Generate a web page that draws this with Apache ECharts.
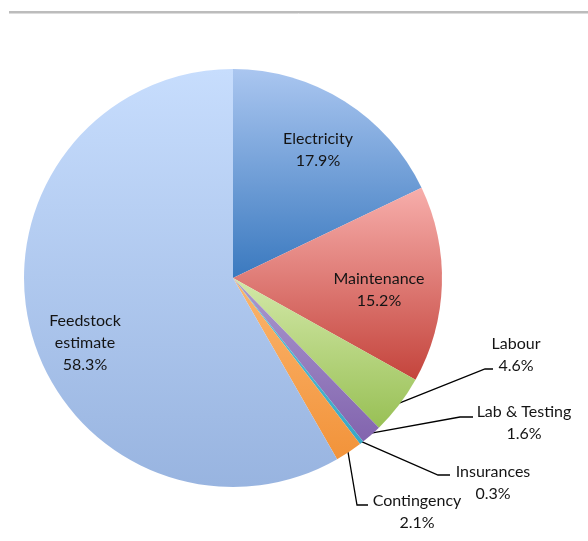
<!DOCTYPE html>
<html>
<head>
<meta charset="utf-8">
<script src="https://cdn.jsdelivr.net/npm/echarts@6/dist/echarts.min.js"></script>
<style>
html,body{margin:0;padding:0;background:#fff;}
#chart{width:588px;height:541px;}
</style>
</head>
<body>
<div id="chart"></div>
<script>
// ---- data ----
const categories = ['Electricity', 'Maintenance', 'Labour', 'Lab & Testing', 'Insurances', 'Contingency', 'Feedstock estimate'];
const shares = [17.9, 15.2, 4.6, 1.6, 0.3, 2.1, 58.3];
const labelTexts = ['Electricity', 'Maintenance', 'Labour', 'Lab & Testing', 'Insurances', 'Contingency', 'Feedstock\nestimate'];

// ---- styling / layout (not data) ----
const gradients = [
  ['#aac6f0', '#3a79bf'],
  ['#f7aeab', '#c4443c'],
  ['#d3e8a8', '#98c055'],
  ['#ab99cf', '#8264ae'],
  ['#5cc2d8', '#38a8c6'],
  ['#fbb56e', '#f2933a'],
  ['#c7ddfd', '#98b4e0']
];
const CX = 233, CY = 278, R = 209;
const labelPos = [[318, 150], [379, 290], [516, 355], [524, 423], [493, 483], [417, 512], [85, 343]];
const lineTail = [null, null,
  [[485, 369], [493, 369]],
  [[460, 417], [473, 417]],
  [[438, 475], [450, 475]],
  [[357, 505], [368, 505]],
  null];

const total = shares.reduce((a, b) => a + b, 0);
function edgePoint(i) {
  let before = 0;
  for (let k = 0; k < i; k++) before += shares[k];
  const mid = (before + shares[i] / 2) / total * 2 * Math.PI;
  const r = R - 2;
  return [CX + r * Math.sin(mid), CY - r * Math.cos(mid)];
}

const data = categories.map((name, i) => ({
  name: name,
  value: shares[i],
  itemStyle: {
    color: {
      type: 'linear', x: 0, y: 0, x2: 0, y2: 1,
      colorStops: [{offset: 0, color: gradients[i][0]}, {offset: 1, color: gradients[i][1]}]
    }
  },
  labelLine: {show: !!lineTail[i]}
}));

const chart = echarts.init(document.getElementById('chart'), null, {renderer: 'canvas'});
chart.setOption({
  backgroundColor: '#ffffff',
  animation: false,
  graphic: [
    {type: 'line', shape: {x1: 9, y1: 12, x2: 588, y2: 12}, style: {stroke: '#a6a6a6', lineWidth: 1.5}},
    {type: 'line', shape: {x1: 9, y1: 13.5, x2: 588, y2: 13.5}, style: {stroke: '#dcdcdc', lineWidth: 1}}
  ],
  series: [{
    type: 'pie',
    center: [CX, CY],
    radius: [0, R],
    startAngle: 90,
    clockwise: true,
    avoidLabelOverlap: false,
    data: data,
    itemStyle: {borderWidth: 0},
    label: {
      show: true,
      position: 'outside',
      fontFamily: 'Lato, "Open Sans", sans-serif',
      fontSize: 16,
      lineHeight: 22,
      color: '#141414',
      align: 'center',
      formatter: function (p) {
        return labelTexts[p.dataIndex] + '\n' + p.value.toFixed(1) + '%';
      }
    },
    labelLine: {
      show: true,
      length: 20,
      length2: 10,
      lineStyle: {color: '#000000', width: 1.3}
    },
    labelLayout: function (p) {
      const i = p.dataIndex;
      const res = {x: labelPos[i][0], y: labelPos[i][1], align: 'center', verticalAlign: 'middle'};
      if (lineTail[i]) {
        res.labelLinePoints = [edgePoint(i), lineTail[i][0], lineTail[i][1]];
      }
      return res;
    }
  }]
});
</script>
</body>
</html>
